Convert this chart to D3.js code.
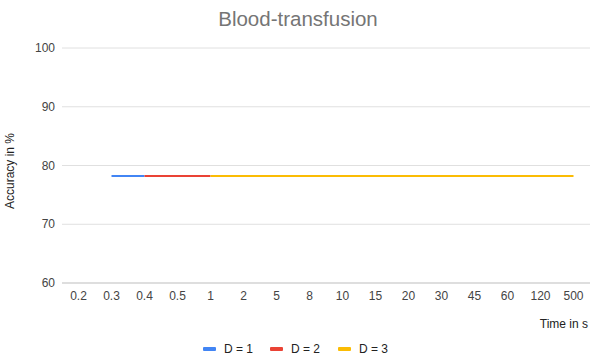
<!DOCTYPE html>
<html>
<head>
<meta charset="utf-8">
<script src="https://cdn.jsdelivr.net/npm/d3@7"></script>
<style>
  body { margin: 0; background: #fff; }
  svg { font-family: "Liberation Sans", Arial, sans-serif; }
</style>
</head>
<body>
<div id="chart"></div>
<script>
// chart data
const times = ["0.2", "0.3", "0.4", "0.5", "1", "2", "5", "8", "10", "15", "20", "30", "45", "60", "120", "500"];
const depth1 = [null, 78.2, 78.2, null, null, null, null, null, null, null, null, null, null, null, null, null];
const depth2 = [null, null, 78.2, 78.2, 78.2, null, null, null, null, null, null, null, null, null, null, null];
const depth3 = [null, null, null, null, 78.2, 78.2, 78.2, 78.2, 78.2, 78.2, 78.2, 78.2, 78.2, 78.2, 78.2, 78.2];
const yTicks = [60, 70, 80, 90, 100];
const seriesNames = ["D = 1", "D = 2", "D = 3"];
const colors = ["#4285F4", "#EA4335", "#FBBC04"];

const width = 590, height = 360;
const plotLeft = 62, plotRight = 590, plotTop = 48, plotBottom = 283;

const svg = d3.select("#chart").append("svg")
  .attr("width", width)
  .attr("height", height);

const x = d3.scaleBand().domain(times).range([plotLeft, plotRight]);
const y = d3.scaleLinear().domain([60, 100]).range([plotBottom, plotTop]);

// title
svg.append("text")
  .attr("x", 298).attr("y", 26)
  .attr("text-anchor", "middle")
  .attr("font-size", 20.5)
  .attr("fill", "#757575")
  .text("Blood-transfusion");

// grid
svg.selectAll(".grid")
  .data(yTicks)
  .enter().append("line")
  .attr("x1", plotLeft).attr("x2", plotRight)
  .attr("y1", d => y(d)).attr("y2", d => y(d))
  .attr("stroke", d => d === 60 ? "#bdbdbd" : "#e0e0e0")
  .attr("stroke-width", 1);

// y tick labels
svg.selectAll(".ytick")
  .data(yTicks)
  .enter().append("text")
  .attr("x", 55).attr("y", d => y(d) + 4)
  .attr("text-anchor", "end")
  .attr("font-size", 12)
  .attr("fill", "#444")
  .text(d => d);

// x tick labels
svg.selectAll(".xtick")
  .data(times)
  .enter().append("text")
  .attr("x", d => x(d) + x.bandwidth() / 2)
  .attr("y", 300)
  .attr("text-anchor", "middle")
  .attr("font-size", 12)
  .attr("fill", "#444")
  .text(d => d);

// axis titles
svg.append("text")
  .attr("transform", "translate(14,171) rotate(-90)")
  .attr("text-anchor", "middle")
  .attr("font-size", 12)
  .attr("fill", "#222")
  .text("Accuracy in %");

svg.append("text")
  .attr("x", 588).attr("y", 328)
  .attr("text-anchor", "end")
  .attr("font-size", 12)
  .attr("fill", "#222")
  .text("Time in s");

// lines
const line = d3.line()
  .defined(d => d != null)
  .x((d, i) => x(times[i]) + x.bandwidth() / 2)
  .y(d => y(d));

[depth1, depth2, depth3].forEach((s, i) => {
  svg.append("path")
    .datum(s)
    .attr("fill", "none")
    .attr("stroke", colors[i])
    .attr("stroke-width", 2)
    .attr("d", line);
});

// legend
const legX = [203, 270, 338];
seriesNames.forEach((n, i) => {
  svg.append("rect")
    .attr("x", legX[i]).attr("y", 347)
    .attr("width", 13).attr("height", 4)
    .attr("rx", 1)
    .attr("fill", colors[i]);
  svg.append("text")
    .attr("x", legX[i] + 21).attr("y", 353)
    .attr("font-size", 12)
    .attr("fill", "#222")
    .text(n);
});
</script>
</body>
</html>
